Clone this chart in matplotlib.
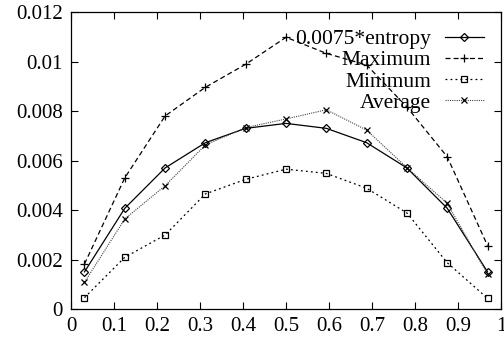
from matplotlib import pyplot as plt
import numpy as np

# x positions (fraction), 11 points
x = [1/32, 4/32, 7/32, 10/32, 13/32, 16/32, 19/32, 22/32, 25/32, 28/32, 31/32]

entropy = [0.00150, 0.00407, 0.00570, 0.00672, 0.00730, 0.00750,
           0.00730, 0.00672, 0.00570, 0.00407, 0.00150]
maximum = [0.00182, 0.00530, 0.00780, 0.00896, 0.00989, 0.01098,
           0.01033, 0.00986, 0.00816, 0.00615, 0.00256]
minimum = [0.00046, 0.00209, 0.00299, 0.00465, 0.00524, 0.00565,
           0.00548, 0.00488, 0.00388, 0.00187, 0.00043]
average = [0.00108, 0.00364, 0.00498, 0.00663, 0.00733, 0.00768,
           0.00805, 0.00723, 0.00571, 0.00427, 0.00140]

xticks = [0, 0.1, 0.2, 0.3, 0.4, 0.5, 0.6, 0.7, 0.8, 0.9, 1]
xticklabels = ["0", "0.1", "0.2", "0.3", "0.4", "0.5", "0.6", "0.7", "0.8", "0.9", "1"]
yticks = [0, 0.002, 0.004, 0.006, 0.008, 0.01, 0.012]
yticklabels = ["0", "0.002", "0.004", "0.006", "0.008", "0.01", "0.012"]

plt.rcParams['font.family'] = ['Liberation Serif', 'DejaVu Serif']
plt.rcParams['font.size'] = 15

fig = plt.figure(figsize=(5.04, 3.39), dpi=100)
ax = fig.add_axes([0.141, 0.0885, 0.853, 0.876])

ax.plot(x, entropy, '-', color='black', lw=0.9, marker='D', ms=4,
        mfc='none', mec='black', mew=0.9, label='0.0075*entropy')
ax.plot(x, maximum, color='black', lw=0.9, ls=(0, (4, 2.5)), marker='+', ms=6,
        mew=0.9, label='Maximum')
ax.plot(x, minimum, color='black', lw=0.9, ls=(0, (1.5, 2.5)), marker='s', ms=5,
        mfc='none', mec='black', mew=0.9, label='Minimum')
ax.plot(x, average, color='#444444', lw=0.8, ls=(0, (1, 1)), marker='x', ms=5,
        mec='black', mew=0.9, label='Average')

ax.set_xlim(0, 1)
ax.set_ylim(0, 0.012)
ax.set_xticks(xticks)
ax.set_xticklabels(xticklabels)
ax.set_yticks(yticks)
ax.set_yticklabels(yticklabels)
ax.tick_params(direction='in', top=True, right=True, length=5, width=0.8, pad=6)
for s in ax.spines.values():
    s.set_linewidth(0.9)

ax.legend(loc='upper right', markerfirst=False, frameon=False, handlelength=1.8,
          numpoints=1, labelspacing=0.05, handletextpad=0.65,
          borderaxespad=0.4, fontsize=15.5)

fig.savefig('out.png', dpi=100)
